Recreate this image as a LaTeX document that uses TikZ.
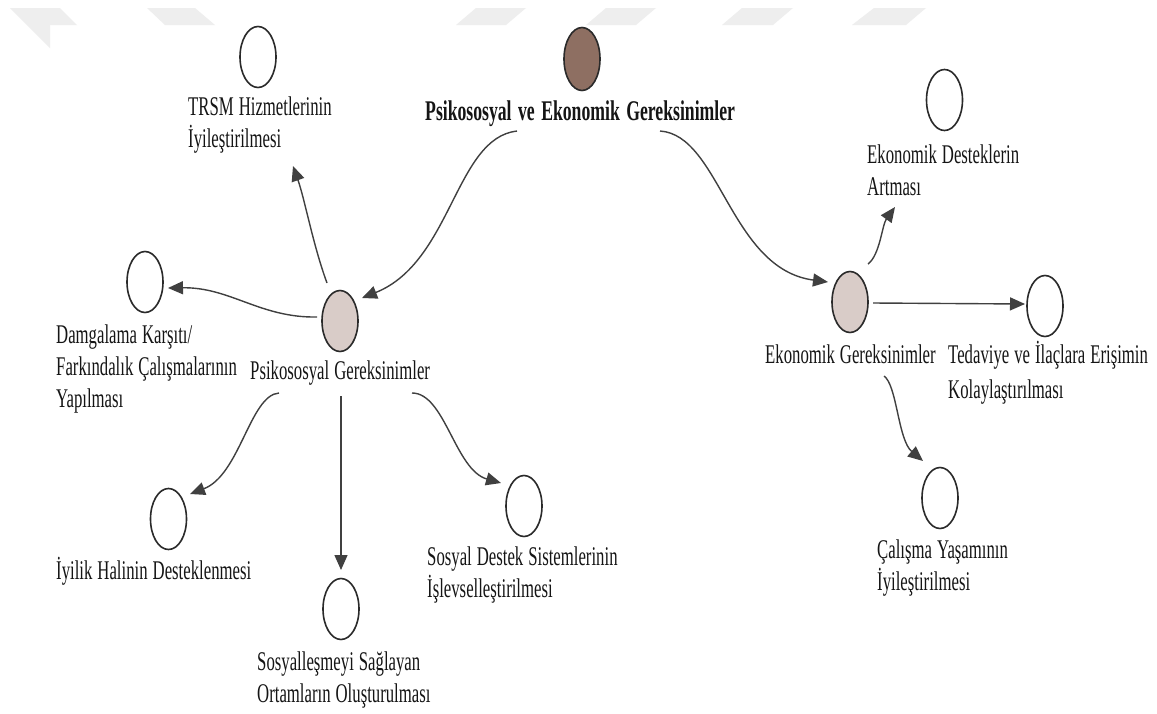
\documentclass[tikz,border=0pt]{standalone}
\usepackage{fontspec}
\setmainfont{Liberation Serif}[FakeStretch=0.62]
\usetikzlibrary{arrows.meta,calc,shapes.geometric}

\definecolor{inkc}{HTML}{151515}
\definecolor{edgec}{HTML}{404040}
\definecolor{rimc}{HTML}{2A2A2A}
\definecolor{rootfill}{HTML}{8E6F62}
\definecolor{midfill}{HTML}{D9CCC8}
\definecolor{wmarkc}{HTML}{EEEEEE}

\newcommand\labelfont{\fontsize{27}{32}\selectfont\spaceskip 5pt\relax}
\newcommand\rootfont{\fontsize{28.5}{32}\selectfont\bfseries\spaceskip 6.5pt\relax}
% left-aligned lines whose baseline is that of the first line
\newcommand\labellines[1]{\begin{tabular}[t]{@{}l@{}}#1\end{tabular}}

\tikzset{
  bub/.style={ellipse, draw=rimc, line width=1.6pt, fill=white,
    minimum width=36pt, minimum height=61pt, inner sep=0pt},
  rootbub/.style={bub, fill=rootfill, minimum height=63pt},
  midbub/.style={bub, fill=midfill},
  lbl/.style={anchor=base west, inner sep=0pt, text=inkc, font=\labelfont},
  rootlbl/.style={lbl, font=\rootfont},
  arr/.style={draw=edgec, line width=1.4pt,
    -{Triangle[length=15pt,width=13pt]}},
  wmark/.style={fill=wmarkc, draw=none}
}

\begin{document}
\begin{tikzpicture}[x=1pt,y=-1pt]
\useasboundingbox (0,0) rectangle (1157,713);
\fill[white] (0,0) rectangle (1157,713);

% faint marks along the top edge
\fill[wmark] (10,8) -- (60,8) -- (77,25) -- (50,25) -- (50,48) -- cycle;
\fill[wmark] (147,8) -- (195,8) -- (215,25) -- (165,25) -- cycle;
\fill[wmark] (476,8) -- (526,8) -- (506,25) -- (456,25) -- cycle;
\fill[wmark] (606,8) -- (656,8) -- (636,25) -- (586,25) -- cycle;
\fill[wmark] (742,8) -- (793,8) -- (773,25) -- (722,25) -- cycle;
\fill[wmark] (874,8) -- (926,8) -- (906,25) -- (852,25) -- cycle;

% bubbles
\node[rootbub] (root)   at (582,59)    {};
\node[bub]     (trsmc)  at (258,57)    {};
\node[bub]     (ekdc)   at (944.5,100) {};
\node[bub]     (damgc)  at (145,282)   {};
\node[midbub]  (psig)   at (340,321)   {};
\node[midbub]  (ekger)  at (850,302)   {};
\node[bub]     (tedc)   at (1045,306)  {};
\node[bub]     (iyic)   at (168.5,519) {};
\node[bub]     (sosc)   at (341,609)   {};
\node[bub]     (sdc)    at (524,506)   {};
\node[bub]     (calisc) at (940,498)   {};

% labels
\node[rootlbl] (rootl)  at (425,120) {Psikososyal ve Ekonomik Gereksinimler};
\node[lbl]     (trsml)  at (188,115) {\labellines{TRSM Hizmetlerinin\\İyileştirilmesi}};
\node[lbl]     (ekdl)   at (867,163) {\labellines{Ekonomik Desteklerin\\Artması}};
\node[lbl]     (damgl)  at (56,343)  {\labellines{Damgalama Karşıtı/\\Farkındalık Çalışmalarının\\Yapılması}};
\node[lbl]     (psigl)  at (250,379) {Psikososyal Gereksinimler};
\node[lbl]     (ekgerl) at (765,363) {Ekonomik Gereksinimler};
\node[lbl]     (tedl)   at (948,363) {\labellines{Tedaviye ve İlaçlara Erişimin\\[3pt]Kolaylaştırılması}};
\node[lbl]     (iyil)   at (56,579)  {İyilik Halinin Desteklenmesi};
\node[lbl]     (sosl)   at (257,670) {\labellines{Sosyalleşmeyi Sağlayan\\Ortamların Oluşturulması}};
\node[lbl]     (sdl)    at (427,565) {\labellines{Sosyal Destek Sistemlerinin\\İşlevselleştirilmesi}};
\node[lbl]     (calisl) at (877,558) {\labellines{Çalışma Yaşamının\\İyileştirilmesi}};

% connectors
\draw[arr] ($(rootl.base west)+(92,11)$) .. controls +(-62,7) and +(90,-36) .. ($(psig.center)+(22,-23)$);
\draw[arr] ($(rootl.base west)+(235,11)$) .. controls +(60,4) and +(-98,-13) .. ($(ekger.center)+(-22,-20)$);
\draw[arr] ($(psig.center)+(-13,-38)$) .. controls +(-14,-38) and +(12,34) .. ($(trsml.base west)+(105,51)$);
\draw[arr] ($(psig.center)+(-23,-4)$) .. controls +(-57,1) and +(62,-1) .. ($(damgc.center)+(23,6)$);
\draw[arr] ($(psigl.base west)+(29,14)$) .. controls +(-29,2) and +(50,-19) .. ($(iyic.center)+(21.5,-25)$);
\draw[arr] ($(psigl.base west)+(91,17)$) -- ($(sosc.center)+(0,-39)$);
\draw[arr] ($(psigl.base west)+(162,14)$) .. controls +(33,0) and +(-46,-13) .. ($(sdc.center)+(-23,-23)$);
\draw[arr] ($(ekger.center)+(18,-38)$) .. controls +(12,-9) and +(-13,18) .. ($(ekdl.base west)+(28,44)$);
\draw[arr] ($(ekger.center)+(23,1)$) -- ($(tedc.center)+(-20,-2)$);
\draw[arr] ($(ekgerl.base west)+(119,13)$) .. controls +(13,9) and +(-25,-21) .. ($(calisc.center)+(-17,-37)$);
\end{tikzpicture}
\end{document}
